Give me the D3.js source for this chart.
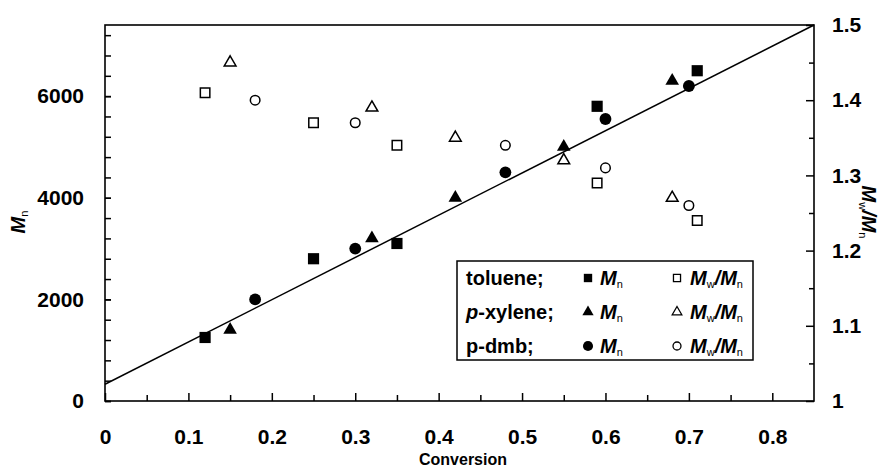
<!DOCTYPE html>
<html>
<head>
<meta charset="utf-8" />
<title>Mn and Mw/Mn vs conversion</title>
<script src="https://d3js.org/d3.v7.min.js"></script>
<style>
body { margin: 0; background: #fff; }
svg { font-family: "Liberation Sans", Arial, sans-serif; }
.axis text { font-size: 21px; font-weight: bold; fill: #000; }
.axis path, .axis line { stroke: #000; stroke-width: 1.5px; }
</style>
</head>
<body>
<div id="chart"></div>
<script>
// conversion, Mn and PDI for each solvent
var convTol = [0.12, 0.25, 0.35, 0.59, 0.71];
var mnTol   = [1250, 2800, 3100, 5800, 6500];
var pdiTol  = [1.41, 1.37, 1.34, 1.29, 1.24];

var convXyl = [0.15, 0.32, 0.42, 0.55, 0.68];
var mnXyl   = [1400, 3200, 4000, 5000, 6300];
var pdiXyl  = [1.45, 1.39, 1.35, 1.32, 1.27];

var convDmb = [0.18, 0.30, 0.48, 0.60, 0.70];
var mnDmb   = [2000, 3000, 4500, 5550, 6200];
var pdiDmb  = [1.40, 1.37, 1.34, 1.31, 1.26];

// linear fit through the Mn points
var fitConv = [0, 0.85];
var fitMn   = [330, 7400];

var xTicks = [0, 0.1, 0.2, 0.3, 0.4, 0.5, 0.6, 0.7, 0.8];
var yLeftTicks = [0, 2000, 4000, 6000];
var yRightTicks = [1, 1.1, 1.2, 1.3, 1.4, 1.5];

var width = 885, height = 468;
var L = 105, R = 814, T = 25, B = 401;

var svg = d3.select("#chart").append("svg")
    .attr("width", width).attr("height", height);

var x = d3.scaleLinear().domain([0, 0.85]).range([L, R]);
var yL = d3.scaleLinear().domain([0, 7400]).range([B, T]);
var yR = d3.scaleLinear().domain([1, 1.5]).range([B, T]);

// frame
svg.append("rect").attr("x", L).attr("y", T)
    .attr("width", R - L).attr("height", B - T)
    .attr("fill", "none").attr("stroke", "#000").attr("stroke-width", 1.6);

// x axis
svg.append("g").attr("class", "axis")
    .attr("transform", "translate(0," + B + ")")
    .call(d3.axisBottom(x).tickValues(d3.range(0.05, 0.85, 0.1)).tickSize(-6).tickFormat(""));
svg.append("g").attr("class", "axis")
    .attr("transform", "translate(0," + B + ")")
    .call(d3.axisBottom(x).tickValues(xTicks).tickSize(-8).tickPadding(28)
        .tickFormat(function(d) { return d === 0 ? "0" : d3.format(".1f")(d); }));

// left axis
svg.append("g").attr("class", "axis")
    .attr("transform", "translate(" + L + ",0)")
    .call(d3.axisLeft(yL).tickValues(d3.range(0, 7400, 400)).tickSize(-6).tickFormat(""));
svg.append("g").attr("class", "axis")
    .attr("transform", "translate(" + L + ",0)")
    .call(d3.axisLeft(yL).tickValues(yLeftTicks).tickSize(-6).tickPadding(21).tickFormat(d3.format("d")));

// right axis
svg.append("g").attr("class", "axis")
    .attr("transform", "translate(" + R + ",0)")
    .call(d3.axisRight(yR).tickValues(d3.range(1.05, 1.5, 0.1)).tickSize(-5).tickFormat(""));
svg.append("g").attr("class", "axis")
    .attr("transform", "translate(" + R + ",0)")
    .call(d3.axisRight(yR).tickValues(yRightTicks).tickSize(-8).tickPadding(18)
        .tickFormat(function(d) { return d === 1 ? "1" : d3.format(".1f")(d); }));

svg.selectAll(".axis .domain").remove();

// axis titles
svg.append("text").attr("x", 463).attr("y", 465)
    .attr("text-anchor", "middle").attr("font-size", 16).attr("font-weight", "bold")
    .text("Conversion");

function mLabel(sel, parts) {
    parts.forEach(function(p) {
        var t = sel.append("tspan").text(p.t);
        if (p.sub) t.attr("font-size", "0.55em").attr("font-weight", "normal").attr("font-style", "normal").attr("dy", "0.3em");
        else if (p.after) t.attr("dy", "-0.165em").attr("font-style", "italic");
        else if (p.it) t.attr("font-style", "italic");
    });
}

var tl = svg.append("text").attr("transform", "translate(25,222) rotate(-90)")
    .attr("text-anchor", "middle").attr("font-size", 20).attr("font-weight", "bold");
mLabel(tl, [{t: "M", it: true}, {t: "n", sub: true}]);

var tr = svg.append("text").attr("transform", "translate(862,212) rotate(90)")
    .attr("text-anchor", "middle").attr("font-size", 20).attr("font-weight", "bold");
mLabel(tr, [{t: "M", it: true}, {t: "w", sub: true}, {t: "/M", after: true}, {t: "n", sub: true}]);

// fit line
svg.append("line")
    .attr("x1", x(fitConv[0])).attr("y1", yL(fitMn[0]))
    .attr("x2", x(fitConv[1])).attr("y2", yL(fitMn[1]))
    .attr("stroke", "#000").attr("stroke-width", 1.5);

function points(conv, vals, scale, type, size, filled) {
    svg.append("g").selectAll("path")
        .data(conv.map(function(c, i) { return [c, vals[i]]; }))
        .enter().append("path")
        .attr("transform", function(d) { return "translate(" + x(d[0]) + "," + scale(d[1]) + ")"; })
        .attr("d", d3.symbol().type(type).size(size)())
        .attr("fill", filled ? "#000" : "#fff")
        .attr("stroke", "#000").attr("stroke-width", filled ? 0 : 1.5);
}

points(convTol, pdiTol, yR, d3.symbolSquare, 90, false);
points(convXyl, pdiXyl, yR, d3.symbolTriangle, 60, false);
points(convDmb, pdiDmb, yR, d3.symbolCircle, 72, false);

points(convTol, mnTol, yL, d3.symbolSquare, 125, true);
points(convXyl, mnXyl, yL, d3.symbolTriangle, 80, true);
points(convDmb, mnDmb, yL, d3.symbolCircle, 110, true);

// legend
var legend = svg.append("g");
legend.append("rect").attr("x", 457).attr("y", 261).attr("width", 296).attr("height", 99)
    .attr("fill", "#fff").attr("stroke", "#000").attr("stroke-width", 1.5);

var legendRows = [
    {name: [{t: "toluene;"}], sym: d3.symbolSquare, s1: 70, s2: 50},
    {name: [{t: "p", it: true}, {t: "-xylene;"}], sym: d3.symbolTriangle, s1: 55, s2: 40},
    {name: [{t: "p-dmb;"}], sym: d3.symbolCircle, s1: 80, s2: 50}
];

legendRows.forEach(function(r, i) {
    var cy = 278 + i * 34;
    var t = legend.append("text").attr("x", 466).attr("y", cy + 7)
        .attr("font-size", 20).attr("font-weight", "bold");
    mLabel(t, r.name);
    legend.append("path").attr("transform", "translate(588," + cy + ")")
        .attr("d", d3.symbol().type(r.sym).size(r.s1)()).attr("fill", "#000");
    var m1 = legend.append("text").attr("x", 600).attr("y", cy + 7)
        .attr("font-size", 20).attr("font-weight", "bold");
    mLabel(m1, [{t: "M", it: true}, {t: "n", sub: true}]);
    legend.append("path").attr("transform", "translate(677," + cy + ")")
        .attr("d", d3.symbol().type(r.sym).size(r.s2)())
        .attr("fill", "#fff").attr("stroke", "#000").attr("stroke-width", 1.3);
    var m2 = legend.append("text").attr("x", 690).attr("y", cy + 7)
        .attr("font-size", 20).attr("font-weight", "bold");
    mLabel(m2, [{t: "M", it: true}, {t: "w", sub: true}, {t: "/M", after: true}, {t: "n", sub: true}]);
});
</script>
</body>
</html>
